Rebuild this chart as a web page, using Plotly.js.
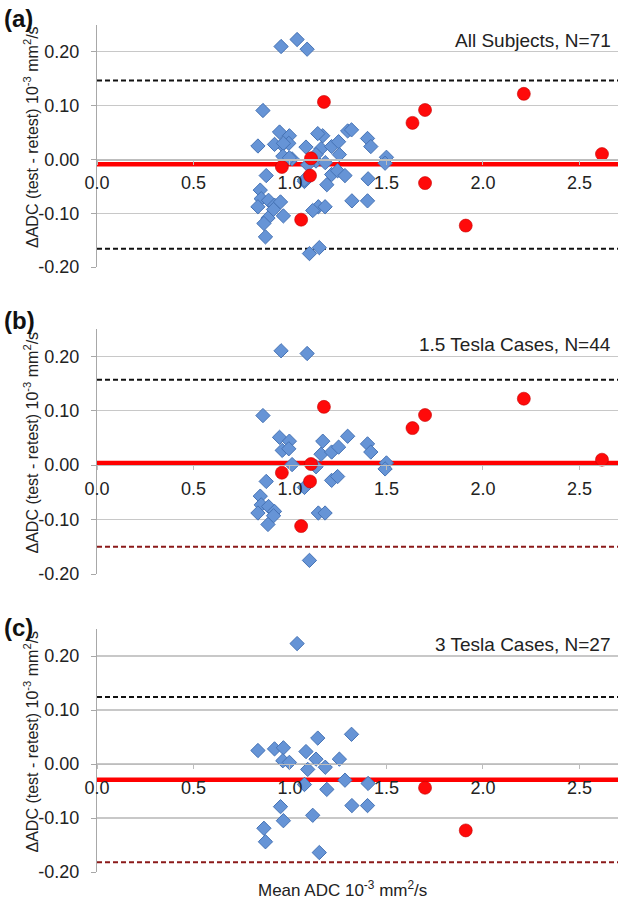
<!DOCTYPE html>
<html>
<head>
<meta charset="utf-8">
<script src="https://cdn.plot.ly/plotly-3.0.1.min.js"></script>
<style>html,body{margin:0;padding:0;background:#fff;}#chart{width:624px;height:900px;}</style>
</head>
<body>
<div id="chart"></div>
<script>
// ---------- data ----------
// 1.5 Tesla cases (blue diamonds)
const blue15X = [0.954,1.089,0.860,0.946,0.997,0.960,0.994,1.170,1.161,1.216,1.252,1.299,1.402,1.419,1.500,1.493,1.011,1.135,0.877,1.075,1.216,1.247,0.846,0.851,0.889,0.920,0.834,0.915,0.886,1.147,1.182,1.101];
const blue15Y = [0.210,0.205,0.091,0.051,0.044,0.027,0.030,0.044,0.020,0.024,0.033,0.053,0.039,0.024,0.004,-0.007,0.001,-0.003,-0.030,-0.041,-0.028,-0.021,-0.057,-0.073,-0.076,-0.085,-0.088,-0.093,-0.109,-0.088,-0.088,-0.175];
// 1.5 Tesla cases (red circles)
const red15X = [1.176,1.109,0.958,1.104,1.058,1.635,1.700,2.212,2.617];
const red15Y = [0.107,0.002,-0.014,-0.030,-0.112,0.068,0.092,0.122,0.010];
// 3 Tesla cases (blue diamonds)
const blue3X = [1.037,0.834,0.920,0.966,0.963,0.997,1.083,1.144,1.135,1.183,1.092,1.256,1.319,1.075,1.191,1.285,1.405,1.321,1.402,0.951,1.118,0.966,0.865,0.873,1.152];
const blue3Y = [0.223,0.025,0.028,0.030,0.006,0.003,0.023,0.048,0.009,-0.006,-0.010,0.009,0.055,-0.038,-0.047,-0.030,-0.036,-0.077,-0.077,-0.079,-0.095,-0.105,-0.119,-0.144,-0.164];
// 3 Tesla cases (red circles)
const red3X = [1.700,1.911];
const red3Y = [-0.044,-0.123];

// Bland-Altman statistics per panel: (a) all, (b) 1.5 T, (c) 3 T
const panelTags = ['(a)','(b)','(c)'];
const panelTitles = ['All Subjects, N=71','1.5 Tesla Cases, N=44','3 Tesla Cases, N=27'];
const meanDiff = [-0.009, 0.004, -0.029];
const upperLoA = [0.147, 0.157, 0.124];
const lowerLoA = [-0.166, -0.150, -0.182];

const xTickVals = [0, 0.5, 1.0, 1.5, 2.0, 2.5];
const xTickText = ['0.0','0.5','1.0','1.5','2.0','2.5'];
const yTickVals = [-0.2, -0.1, 0, 0.1, 0.2];
const yTickText = ['-0.20','-0.10','0.00','0.10','0.20'];

const yAxisTitle = 'ΔADC (test - retest) 10<sup>-3</sup> mm<sup>2</sup>/s';
const xAxisTitle = 'Mean ADC 10<sup>-3</sup> mm<sup>2</sup>/s';

// ---------- layout helpers ----------
const W = 624, H = 900;
const M = {l: 97, r: 6, t: 25, b: 28};
const plotH = H - M.t - M.b;
const plotW = W - M.l - M.r;
const pyToPaper = py => (H - M.b - py) / plotH;
const pxToPaper = px => (px - M.l) / plotW;

const XR = [0, 2.7];
const YR = [-0.2, 0.25];
const FONT = '"Liberation Sans", Arial, Helvetica, sans-serif';

// panel pixel extents (top, bottom)
const panelPx = [[25, 267], [329, 574], [629, 872]];
const tagPy = [18, 320, 627];
const lowerColor = ['#111111', '#8b1a1a', '#8b1a1a'];

const panelData = [
  {bx: blue15X.concat(blue3X), by: blue15Y.concat(blue3Y), rx: red15X.concat(red3X), ry: red15Y.concat(red3Y)},
  {bx: blue15X, by: blue15Y, rx: red15X, ry: red15Y},
  {bx: blue3X, by: blue3Y, rx: red3X, ry: red3Y}
];

const traces = [];
const layout = {
  width: W, height: H,
  margin: M,
  paper_bgcolor: '#ffffff',
  plot_bgcolor: 'rgba(0,0,0,0)',
  showlegend: false,
  font: {family: FONT, size: 18, color: '#222'},
  annotations: [],
};

panelData.forEach((d, i) => {
  const n = i === 0 ? '' : String(i + 1);
  const xa = 'x' + n, ya = 'y' + n;
  const dom = [pyToPaper(panelPx[i][1]), pyToPaper(panelPx[i][0])];
  const zeroPos = dom[0] + (0 - YR[0]) / (YR[1] - YR[0]) * (dom[1] - dom[0]);

  layout['xaxis' + n] = {
    range: XR, domain: [0, 1], anchor: 'free', position: zeroPos,
    tickvals: xTickVals, ticktext: xTickText,
    showgrid: false, zeroline: false,
    showline: true, linecolor: '#bdbdbd', linewidth: 1.2,
    ticks: 'outside', ticklen: 4, tickcolor: '#bdbdbd', tickwidth: 1,
    ticklabelstandoff: 3,
    tickfont: {family: FONT, size: 18, color: '#222'},
    fixedrange: true
  };
  layout['yaxis' + n] = {
    range: YR, domain: dom, anchor: xa,
    tickvals: yTickVals, ticktext: yTickText,
    showgrid: true, gridcolor: '#c8c8c8', gridwidth: 1.2,
    zeroline: false,
    showline: true, linecolor: '#a8a8a8', linewidth: 1.2,
    ticks: 'outside', ticklen: 5, tickcolor: '#a8a8a8',
    ticklabelstandoff: 8,
    tickfont: {family: FONT, size: 18, color: '#222'},
    fixedrange: true
  };

  const lineX = [XR[0], XR[1]];
  // limits of agreement and mean difference
  traces.push({x: lineX, y: [upperLoA[i], upperLoA[i]], xaxis: xa, yaxis: ya, mode: 'lines',
    line: {color: '#111111', width: 2, dash: '5px,3px'}, hoverinfo: 'skip'});
  traces.push({x: lineX, y: [lowerLoA[i], lowerLoA[i]], xaxis: xa, yaxis: ya, mode: 'lines',
    line: {color: lowerColor[i], width: 2, dash: '5px,3px'}, hoverinfo: 'skip'});
  traces.push({x: lineX, y: [meanDiff[i], meanDiff[i]], xaxis: xa, yaxis: ya, mode: 'lines',
    line: {color: '#ff0000', width: 4.5}, hoverinfo: 'skip'});
  // points
  traces.push({x: d.bx, y: d.by, xaxis: xa, yaxis: ya, mode: 'markers', type: 'scatter',
    marker: {symbol: 'diamond', size: 11, color: '#6694d6', line: {color: '#4673b5', width: 1}}});
  traces.push({x: d.rx, y: d.ry, xaxis: xa, yaxis: ya, mode: 'markers', type: 'scatter',
    marker: {symbol: 'circle', size: 13, color: '#ff0a0a', line: {color: '#c40000', width: 0.6}}});

  // y-axis title (rotated)
  layout.annotations.push({
    text: yAxisTitle, xref: 'paper', yref: ya + ' domain',
    x: pxToPaper(31), y: 0.5, yshift: 9, textangle: -90,
    xanchor: 'center', yanchor: 'middle', showarrow: false,
    font: {family: FONT, size: 16, color: '#222'}
  });
  layout.annotations.push({
    text: panelTitles[i], xref: xa + ' domain', yref: ya + ' domain',
    x: 0.99, y: 0.935, xanchor: 'right', yanchor: 'middle', showarrow: false,
    font: {family: FONT, size: 19, color: '#222'}
  });
  layout.annotations.push({
    text: '<b>' + panelTags[i] + '</b>', xref: 'paper', yref: 'paper',
    x: pxToPaper(2), y: pyToPaper(tagPy[i]), xanchor: 'left', yanchor: 'middle', showarrow: false,
    font: {family: FONT, size: 24, color: '#111'}
  });
});

layout.annotations.push({
  text: xAxisTitle, xref: 'paper', yref: 'paper',
  x: pxToPaper(342), y: pyToPaper(889), xanchor: 'center', yanchor: 'middle', showarrow: false,
  font: {family: FONT, size: 17, color: '#222'}
});

Plotly.newPlot('chart', traces, layout, {displayModeBar: false, staticPlot: true});
</script>
</body>
</html>
